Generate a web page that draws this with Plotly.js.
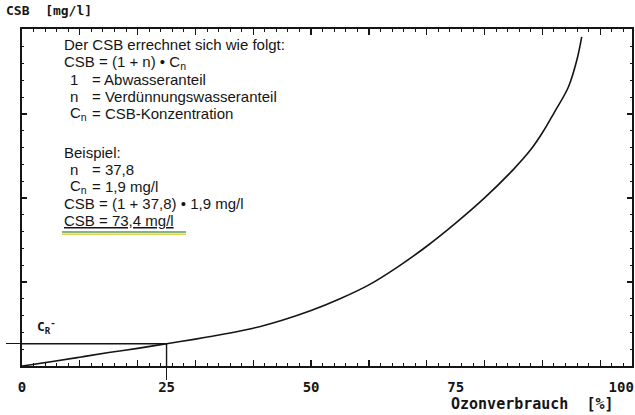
<!DOCTYPE html>
<html><head><meta charset="utf-8">
<script src="https://cdn.plot.ly/plotly-3.0.1.min.js"></script>
<style>html,body{margin:0;padding:0;background:#fff}#chart{width:635px;height:415px}</style>
</head><body><div id="chart"></div>
<script>
// ---- data ----
const ozonX = [0, 5, 10, 15, 20, 25, 30, 35, 40, 45, 50, 55, 60, 65, 70, 75, 80, 85, 88, 90, 92, 94.5, 96, 96.8];
const csbY  = [0, 1.0, 2.1, 3.2, 4.2, 5.3, 6.4, 7.6, 9.0, 10.9, 13.2, 16.0, 19.3, 23.6, 28.5, 34.0, 40.0, 46.8, 51.5, 55.5, 60.2, 66.4, 73.0, 78.3];
const crX = 25;
const crY = csbY[ozonX.indexOf(crX)];
const xLabelVals = [0, 25, 50, 75, 100];
const xLabelText = ['0', '25', '50', '75', '\u2007\u2007\u2007\u2007\u2007100'];
const yAxisTitle = 'CSB  [mg/l]';
const xAxisTitle = 'Ozonverbrauch  [%]';
const crLabel = 'C<sub>R</sub><sup>-</sup>';
const headerText = 'Der CSB errechnet sich wie folgt:';
const formulaText = 'CSB = (1 + n) \u2022 C<sub>n</sub>';
const defSymbols = ['1', 'n', 'C<sub>n</sub>'];
const defTexts = ['= Abwasseranteil', '= Verdünnungswasseranteil', '= CSB-Konzentration'];
const exampleTitle = 'Beispiel:';
const exSymbols = ['n', 'C<sub>n</sub>'];
const exTexts = ['= 37,8', '= 1,9 mg/l'];
const calcLines = ['CSB = (1 + 37,8) \u2022 1,9 mg/l', '<u>CSB = 73,4 mg/l</u>'];

// ---- layout helpers ----
const W = 635, H = 415, L = 22, R = 3, T = 29, B = 49;
const pw = W - L - R, ph = H - T - B;
const px = v => (v - L) / pw;
const py = v => (H - B - v) / ph;
const xRange = [0, 105.5];
const yRange = [0, 80.2];
const ink = '#151515';
const mono = 'DejaVu Sans Mono, monospace';
const sans = 'Liberation Sans, Arial, sans-serif';
const txtFont = {family: sans, size: 15, color: ink};
const monoFont = {family: mono, size: 14, color: ink, weight: 'bold'};

const anns = [];
function note(text, x, y, font) {
  anns.push({text, xref: 'paper', yref: 'paper', x: px(x), y: py(y), xanchor: 'left', yanchor: 'middle', showarrow: false, font: font || txtFont});
}
const lh = 17.2;
note(headerText, 62, 45);
note(formulaText, 62, 45 + lh);
defSymbols.forEach((s, i) => { note(s, 68, 45 + lh * (2 + i)); note(defTexts[i], 90, 45 + lh * (2 + i)); });
note(exampleTitle, 62, 152);
exSymbols.forEach((s, i) => { note(s, 68, 152 + lh * (1 + i)); note(exTexts[i], 90, 152 + lh * (1 + i)); });
calcLines.forEach((s, i) => note(s, 62, 152 + lh * (3 + i)));
note(yAxisTitle, 4, 11, Object.assign({}, monoFont, {size: 13}));
note(xAxisTitle, 449, 404, Object.assign({}, monoFont, {size: 15}));
note(crLabel, 35, 327, Object.assign({}, monoFont, {size: 13}));

const shapes = [
  {type: 'line', xref: 'paper', yref: 'paper', x0: px(62), x1: px(186), y0: py(232), y1: py(232), line: {color: '#5e9a55', width: 1.6}},
  {type: 'line', xref: 'paper', yref: 'paper', x0: px(62), x1: px(186), y0: py(234.2), y1: py(234.2), line: {color: '#e0d24a', width: 1.6}}
];

const traces = [
  {x: ozonX, y: csbY, type: 'scatter', mode: 'lines', line: {color: ink, width: 1.6, shape: 'spline', smoothing: 1}, hoverinfo: 'skip'},
  {x: [0, crX], y: [crY, crY], type: 'scatter', mode: 'lines', line: {color: ink, width: 1.4}, hoverinfo: 'skip'},
  {x: [crX, crX], y: [0, crY], type: 'scatter', mode: 'lines', line: {color: ink, width: 1.4}, hoverinfo: 'skip'}
];

const layout = {
  width: W, height: H,
  margin: {l: L, r: R, t: T, b: B, pad: 0},
  paper_bgcolor: '#fff', plot_bgcolor: '#fff',
  showlegend: false,
  xaxis: {range: xRange, showgrid: false, zeroline: false, showline: true, linecolor: ink, linewidth: 2, mirror: 'ticks',
          ticks: 'inside', dtick: 10, tick0: 0, ticklen: 6, tickwidth: 1.3, tickcolor: ink, showticklabels: false,
          minor: {dtick: 2, tick0: 0, ticks: 'inside', ticklen: 3, tickwidth: 1, tickcolor: ink, showgrid: false}},
  xaxis2: {range: xRange, overlaying: 'x', anchor: 'y', side: 'bottom', showgrid: false, zeroline: false, showline: false,
           tickmode: 'array', tickvals: xLabelVals, ticktext: xLabelText, ticks: '', ticklabelstandoff: 11,
           tickfont: {family: mono, size: 14, color: ink, weight: 'bold'}},
  xaxis3: {range: xRange, overlaying: 'x', anchor: 'y', side: 'bottom', showgrid: false, zeroline: false, showline: false,
           tickmode: 'array', tickvals: [crX], ticks: 'outside', ticklen: 13, tickwidth: 1.4, tickcolor: ink, showticklabels: false},
  yaxis: {range: yRange, showgrid: false, zeroline: false, showline: true, linecolor: ink, linewidth: 2, mirror: 'ticks',
          ticks: 'inside', dtick: 20, tick0: 0, ticklen: 5, tickwidth: 1.3, tickcolor: ink, showticklabels: false,
          minor: {dtick: 4, tick0: 0, ticks: 'inside', ticklen: 2, tickwidth: 1, tickcolor: ink, showgrid: false}},
  yaxis2: {range: yRange, overlaying: 'y', anchor: 'x', side: 'left', showgrid: false, zeroline: false, showline: false,
           tickmode: 'array', tickvals: [crY], ticks: 'outside', ticklen: 15, tickwidth: 1.4, tickcolor: ink, showticklabels: false},
  annotations: anns,
  shapes: shapes
};
traces.push({x: [0], y: [0], xaxis: 'x2', yaxis: 'y', mode: 'markers', marker: {opacity: 0}, hoverinfo: 'skip'});
traces.push({x: [0], y: [0], xaxis: 'x3', yaxis: 'y2', mode: 'markers', marker: {opacity: 0}, hoverinfo: 'skip'});
Plotly.newPlot('chart', traces, layout, {staticPlot: true});
</script></body></html>
